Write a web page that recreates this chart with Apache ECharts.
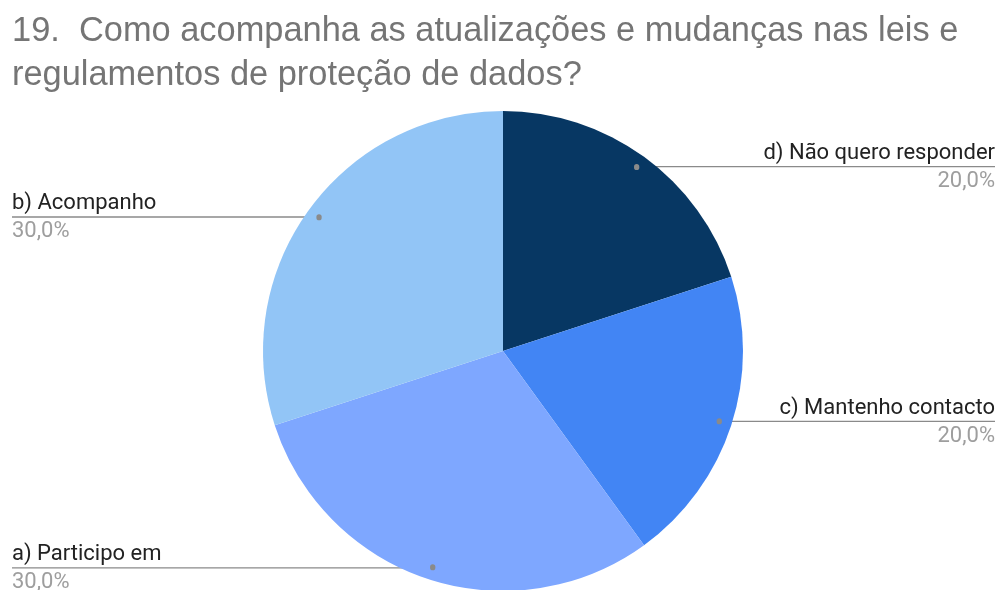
<!DOCTYPE html>
<html><head><meta charset="utf-8">
<script src="https://cdn.jsdelivr.net/npm/echarts@6/dist/echarts.min.js"></script>
<style>html,body{margin:0;padding:0;background:#fff}#c{width:1000px;height:590px}</style>
</head><body><div id="c"></div>
<script>
const titleText = '19.  Como acompanha as atualizações e mudanças nas leis e\nregulamentos de proteção de dados?';
const categories = ['d) Não quero responder', 'c) Mantenho contacto', 'a) Participo em', 'b) Acompanho'];
const values = [20, 20, 30, 30];
const colors = ['#073763', '#4285f4', '#7ea7ff', '#92c5f6'];

const CX = 503, CY = 351, R = 240, DOT = 0.95;
const total = values.reduce((a, b) => a + b, 0);
const mids = [];
let acc = 0;
values.forEach(v => { mids.push((acc + v / 2) / total * 2 * Math.PI); acc += v; });

const chart = echarts.init(document.getElementById('c'), null, {renderer: 'canvas'});
const W = 1000;
chart.setOption({
  animation: false,
  title: {
    text: titleText, left: 7, top: 5,
    textStyle: {fontFamily: 'Liberation Sans, Arial', fontSize: 34.4, fontWeight: 'normal', color: '#757575', lineHeight: 44}
  },
  series: [{
    type: 'pie', center: [CX, CY], radius: R, startAngle: 90, clockwise: true,
    data: categories.map((n, i) => ({name: n, value: values[i], itemStyle: {color: colors[i]}})),
    itemStyle: {borderWidth: 0},
    label: {
      show: true, position: 'outside',
      formatter: p => '{n|' + p.name + '}\n{p|' + p.percent.toFixed(1).replace('.', ',') + '%}',
      rich: {
        n: {fontFamily: 'Roboto', fontSize: 22, color: '#222', lineHeight: 28},
        p: {fontFamily: 'Roboto', fontSize: 22, color: '#9e9e9e', lineHeight: 28}
      }
    },
    labelLine: {show: true, lineStyle: {color: '#8a8a8a', width: 1.3}, length: 10, length2: 10},
    labelLayout: function (params) {
      const i = params.dataIndex;
      const a = mids[i];
      const dx = CX + DOT * R * Math.sin(a);
      const dy = CY - DOT * R * Math.cos(a);
      const right = Math.sin(a) > 0;
      const ex = right ? W - 5 : 12;
      return {
        x: ex, y: dy + 1,
        align: right ? 'right' : 'left',
        verticalAlign: 'middle',
        labelLinePoints: [[dx, dy], [dx, dy], [ex, dy]]
      };
    }
  }, {
    type: 'pie', center: [CX, CY], radius: [R * 0.87, R], startAngle: 90, clockwise: true,
    silent: true,
    data: categories.map((n, i) => ({name: n, value: values[i]})),
    itemStyle: {color: 'rgba(0,0,0,0)'},
    label: {show: true, position: 'inside', formatter: ' ', fontSize: 1, lineHeight: 1,
      padding: [3, 3, 2, 2], borderRadius: 3, backgroundColor: '#8a8a8a'},
    labelLine: {show: false}
  }]
});
</script></body></html>
